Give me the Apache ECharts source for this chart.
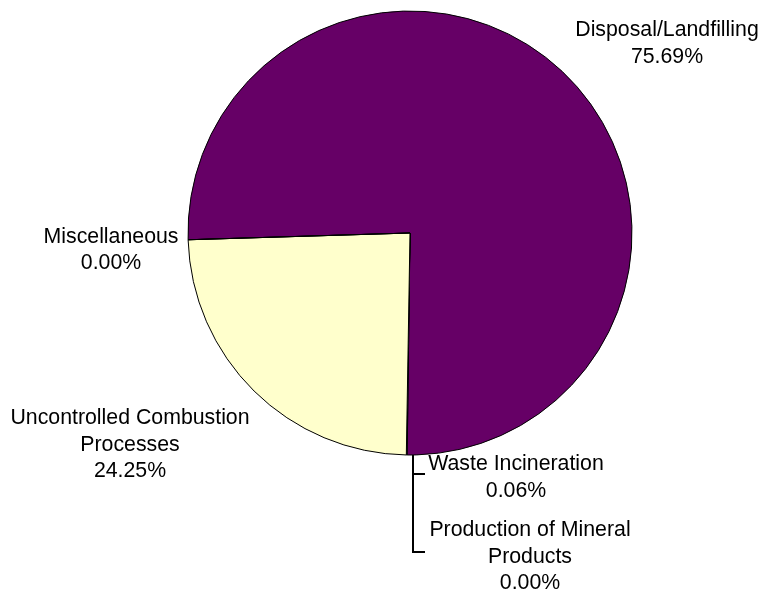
<!DOCTYPE html>
<html>
<head>
<meta charset="utf-8">
<style>html,body{margin:0;padding:0;background:#fff;}#c{width:761px;height:596px;}</style>
<script src="https://cdn.jsdelivr.net/npm/echarts@6/dist/echarts.min.js"></script>
</head>
<body>
<div id="c"></div>
<script>
const categories = ["Disposal/Landfilling", "Waste Incineration", "Production of Mineral Products", "Uncontrolled Combustion Processes", "Miscellaneous"];
const labelNames = ["Disposal/Landfilling", "Waste Incineration", "Production of Mineral\nProducts", "Uncontrolled Combustion\nProcesses", "Miscellaneous"];
const values = [75.69, 0.06, 0.00, 24.25, 0.00];
const colors = ["#660066", "#660066", "#660066", "#FFFFCC", "#FFFFCC"];

const labelPos = [
  {x: 667, y: 43.5},
  {x: 516, y: 477.5},
  {x: 530, y: 557},
  {x: 130, y: 445},
  {x: 111, y: 250}
];
const linePts = [
  null,
  [[413, 455], [413, 474], [425, 474]],
  [[413, 455], [413, 552], [425, 552]],
  null,
  null
];

const chart = echarts.init(document.getElementById('c'), null, {renderer: 'canvas'});
chart.setOption({
  backgroundColor: '#ffffff',
  animation: false,
  series: [{
    type: 'pie',
    center: [410, 233],
    radius: 222,
    startAngle: 181.75,
    clockwise: true,
    minAngle: 0,
    avoidLabelOverlap: false,
    stillShowZeroSum: true,
    itemStyle: {borderColor: '#000', borderWidth: 1},
    emphasis: {disabled: true},
    label: {
      show: true,
      position: 'outside',
      color: '#000',
      fontFamily: 'Liberation Sans, Arial, sans-serif',
      fontSize: 21.3,
      lineHeight: 26.5,
      align: 'center',
      formatter: p => labelNames[p.dataIndex] + '\n' + values[p.dataIndex].toFixed(2) + '%'
    },
    labelLine: {show: true, length: 5, length2: 5, lineStyle: {color: '#000', width: 2}},
    labelLayout: function (params) {
      const i = params.dataIndex;
      const o = {x: labelPos[i].x, y: labelPos[i].y, align: 'center', verticalAlign: 'middle'};
      if (linePts[i]) o.labelLinePoints = linePts[i];
      return o;
    },
    data: categories.map((c, i) => ({
      name: c,
      value: values[i],
      itemStyle: {color: colors[i]},
      labelLine: {show: !!linePts[i]}
    }))
  }]
});
</script>
</body>
</html>
